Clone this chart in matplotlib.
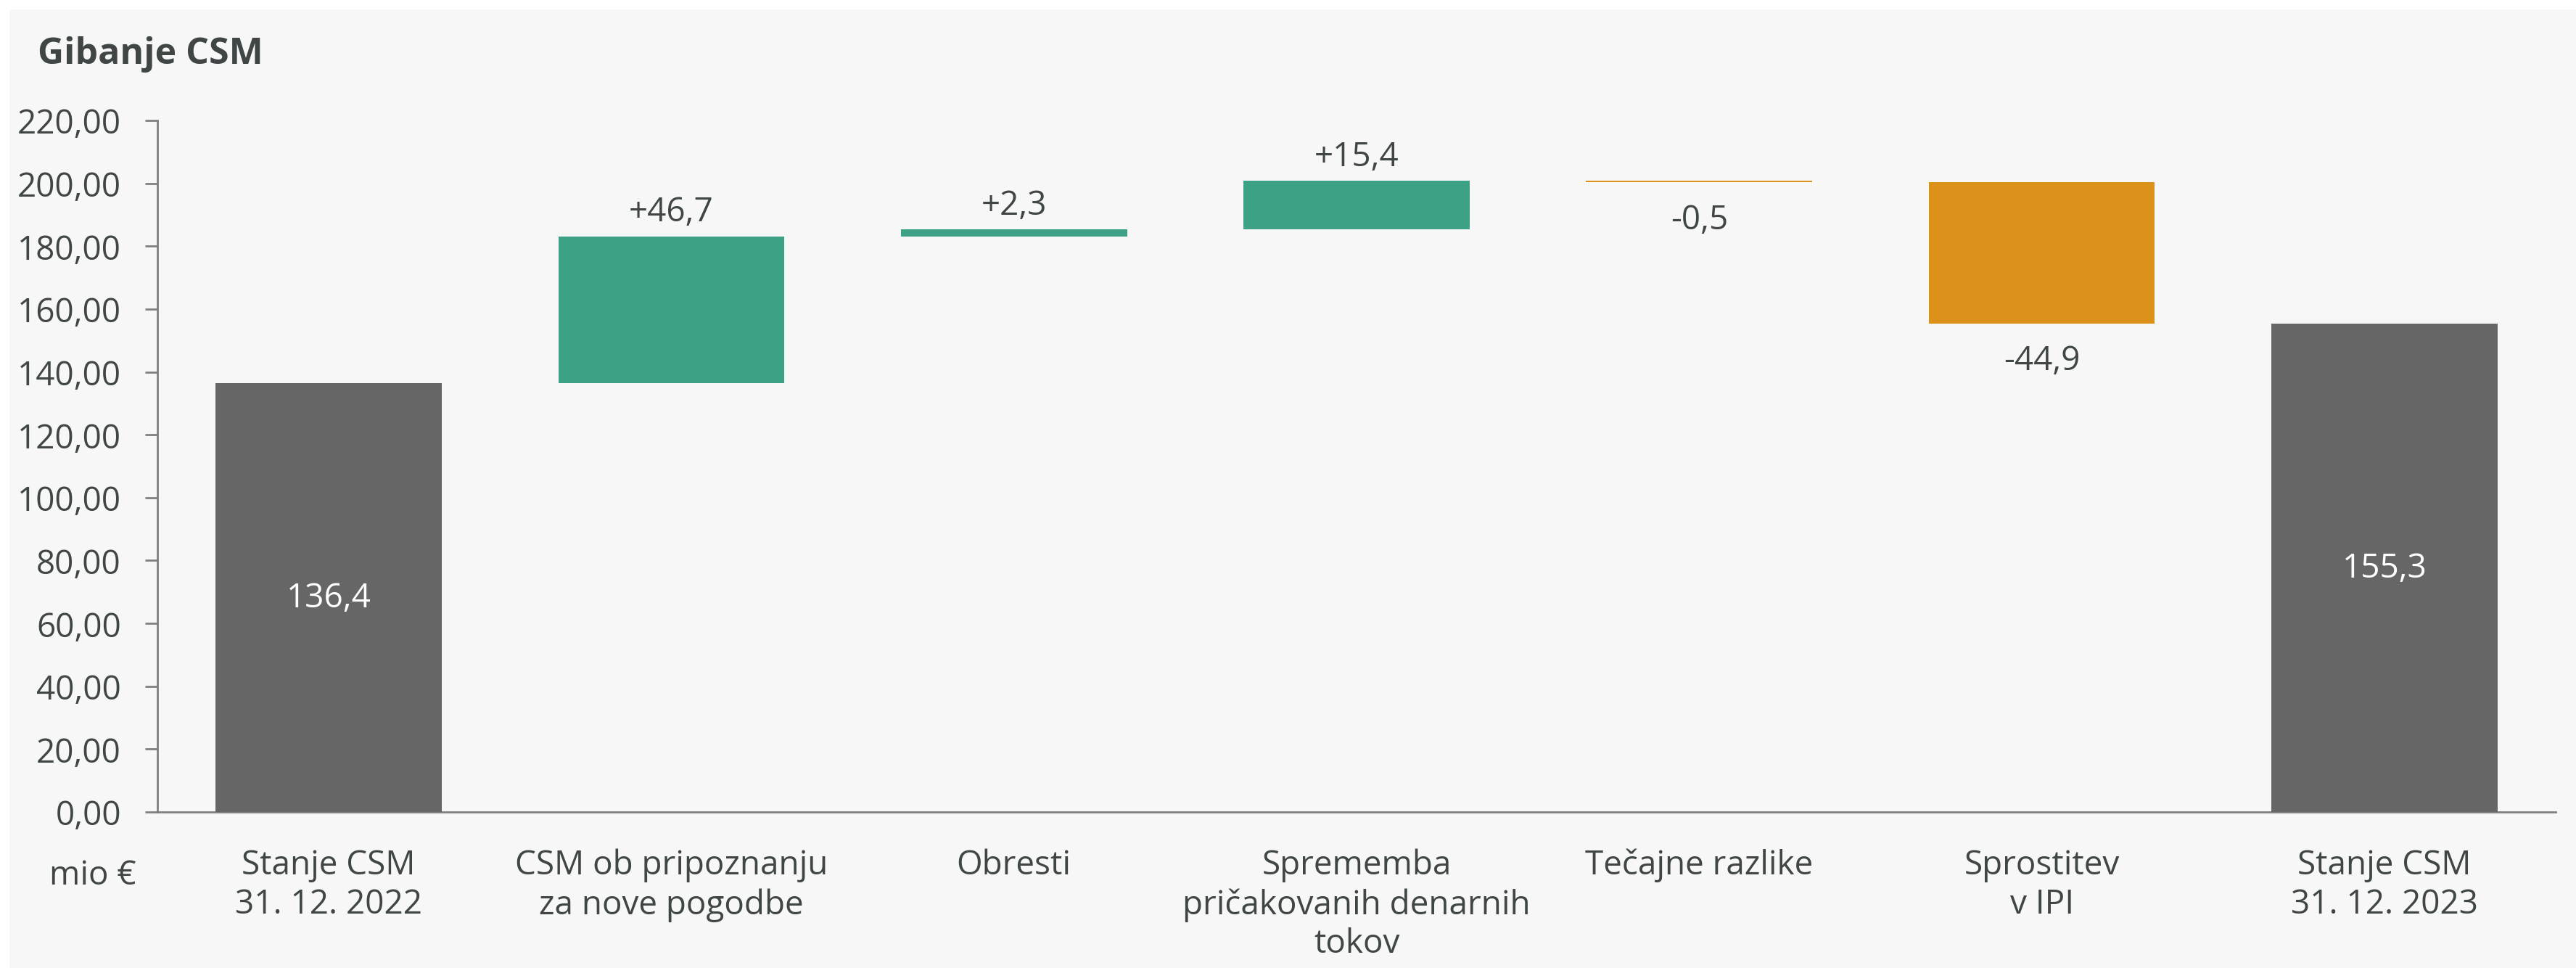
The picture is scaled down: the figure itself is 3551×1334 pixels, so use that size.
import matplotlib
matplotlib.use('Agg')
import matplotlib.pyplot as plt
from matplotlib.patches import Rectangle
from matplotlib.ticker import FuncFormatter

plt.rcParams['font.family'] = ['Open Sans', 'DejaVu Sans']

# podatki
kategorije = ['Stanje CSM\n31. 12. 2022', 'CSM ob pripoznanju\nza nove pogodbe', 'Obresti',
              'Sprememba\npričakovanih denarnih\ntokov', 'Tečajne razlike', 'Sprostitev\nv IPI',
              'Stanje CSM\n31. 12. 2023']
vrednosti = [136.4, 46.7, 2.3, 15.4, -0.5, -44.9, 155.3]
vrsta = ['skupaj', 'sprememba', 'sprememba', 'sprememba', 'sprememba', 'sprememba', 'skupaj']
oznake = ['136,4', '+46,7', '+2,3', '+15,4', '-0,5', '-44,9', '155,3']

SIVA = '#666666'
ZELENA = '#3DA285'
ORANZNA = '#DB911A'
BESEDILO = '#404646'
FS = 33

fig = plt.figure(figsize=(35.51, 13.349), dpi=100)
fig.patch.set_facecolor('white')
fig.patches.append(Rectangle((13 / 3551, 0), 1, 1 - 14 / 1335, transform=fig.transFigure,
                             facecolor='#f7f7f7', edgecolor='none', zorder=-10))

ax = fig.add_axes([217 / 3551, 1 - 1120 / 1335, (3523 - 217) / 3551, (1120 - 167) / 1335])
ax.set_facecolor('none')
ax.set_zorder(5)

# izracun dna stolpcev
dno = []
vrh = []
tekoce = 0
for v, k in zip(vrednosti, vrsta):
    if k == 'skupaj':
        dno.append(0)
        vrh.append(v)
        tekoce = v
    else:
        dno.append(tekoce)
        tekoce += v
        vrh.append(tekoce)

x = list(range(len(kategorije)))
for i in x:
    if vrsta[i] == 'skupaj':
        barva = SIVA
        spodaj = 0
    else:
        barva = ZELENA if vrednosti[i] >= 0 else ORANZNA
        spodaj = dno[i]
    ax.bar(i, vrednosti[i], bottom=spodaj, width=0.66, color=barva, zorder=3)

    if vrsta[i] == 'skupaj':
        ax.text(i, vrednosti[i] / 2, oznake[i], ha='center', va='center', color='white', fontsize=FS)
    elif vrednosti[i] >= 0:
        ax.annotate(oznake[i], (i, max(dno[i], vrh[i])), xytext=(0, 24), textcoords='offset points',
                    ha='center', va='center', color=BESEDILO, fontsize=FS)
    else:
        ax.annotate(oznake[i], (i, min(dno[i], vrh[i])), xytext=(0, -37), textcoords='offset points',
                    ha='center', va='center', color=BESEDILO, fontsize=FS)

ax.set_xlim(-0.5, len(kategorije) - 0.5)
ax.set_ylim(0, 220)
ax.set_yticks(range(0, 221, 20))
ax.yaxis.set_major_formatter(FuncFormatter(lambda v, p: f'{v:.2f}'.replace('.', ',')))
ax.set_xticks(x)
ax.set_xticklabels(kategorije, fontsize=FS, color=BESEDILO, linespacing=1.22, va='top')
ax.tick_params(axis='x', length=0, pad=36)
ax.tick_params(axis='y', length=12, width=2, color='#7f7f7f', pad=24, labelsize=FS, labelcolor=BESEDILO)

for s in ['top', 'right']:
    ax.spines[s].set_visible(False)
for s in ['left', 'bottom']:
    ax.spines[s].set_color('#7f7f7f')
    ax.spines[s].set_linewidth(2)

ax.text(128 / 3551, 1 - 1207 / 1335, 'mio €', transform=fig.transFigure, ha='center', va='center',
        fontsize=FS, color=BESEDILO)
fig.text(52 / 3551, 1 - 75 / 1335, 'Gibanje CSM', ha='left', va='center', fontsize=36,
         fontweight='bold', color=BESEDILO)

fig.savefig('out.png', dpi=100, facecolor=fig.get_facecolor())
